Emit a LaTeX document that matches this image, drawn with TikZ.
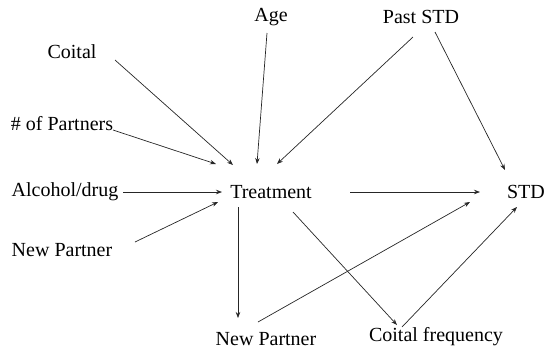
\documentclass[tikz,border=0pt]{standalone}
\usepackage{fontspec}
\setmainfont{Liberation Serif}
\usetikzlibrary{arrows.meta,calc}
\begin{document}
\begin{tikzpicture}[x=1pt,y=-1pt,
  lbl/.style={inner sep=0pt,font=\fontsize{20}{24}\selectfont},
  conn/.style={draw=black!85,line width=0.7pt,-{Stealth[length=6pt,width=4.5pt]}}]
\useasboundingbox (0,0) rectangle (550,357);
\node[lbl] (age) at (271,17) {Age};
\node[lbl] (paststd) at (421,17) {Past STD};
\node[lbl] (coital) at (72,52) {Coital};
\node[lbl] (partners) at (62,124) {\# of Partners};
\node[lbl] (alcohol) at (65,192) {Alcohol/drug};
\node[lbl] (newpL) at (62,250) {New Partner};
\node[lbl] (treat) at (271,192) {Treatment};
\node[lbl] (std) at (526,192) {STD};
\node[lbl] (newpB) at (266,339) {New Partner};
\node[lbl] (coitfreq) at (436,337) {Coital frequency};

\draw[conn] ($(coital)+(43,8)$) -- ($(treat)+(-38,-27)$);
\draw[conn] ($(partners)+(51,6)$) -- ($(treat)+(-55,-28)$);
\draw[conn] ($(age)+(-4,16)$) -- ($(treat)+(-14,-28)$);
\draw[conn] ($(paststd)+(-8,20)$) -- ($(treat)+(6,-28)$);
\draw[conn] ($(paststd)+(14,15)$) -- ($(std)+(-21,-22)$);
\draw[conn] ($(alcohol)+(58,0)$) -- ($(treat)+(-49,0)$);
\draw[conn] ($(newpL)+(73,-8)$) -- ($(treat)+(-53,10)$);
\draw[conn] ($(treat)+(-33,15)$) -- ($(newpB)+(-28,-21)$);
\draw[conn] ($(newpB)+(-8,-17)$) -- ($(std)+(-56,10)$);
\draw[conn] ($(treat)+(22,20)$) -- ($(coitfreq)+(-39,-12)$);
\draw[conn] ($(coitfreq)+(-34,-10)$) -- ($(std)+(-9,15)$);
\draw[conn] ($(treat)+(79,0)$) -- ($(std)+(-46,0)$);
\end{tikzpicture}
\end{document}
